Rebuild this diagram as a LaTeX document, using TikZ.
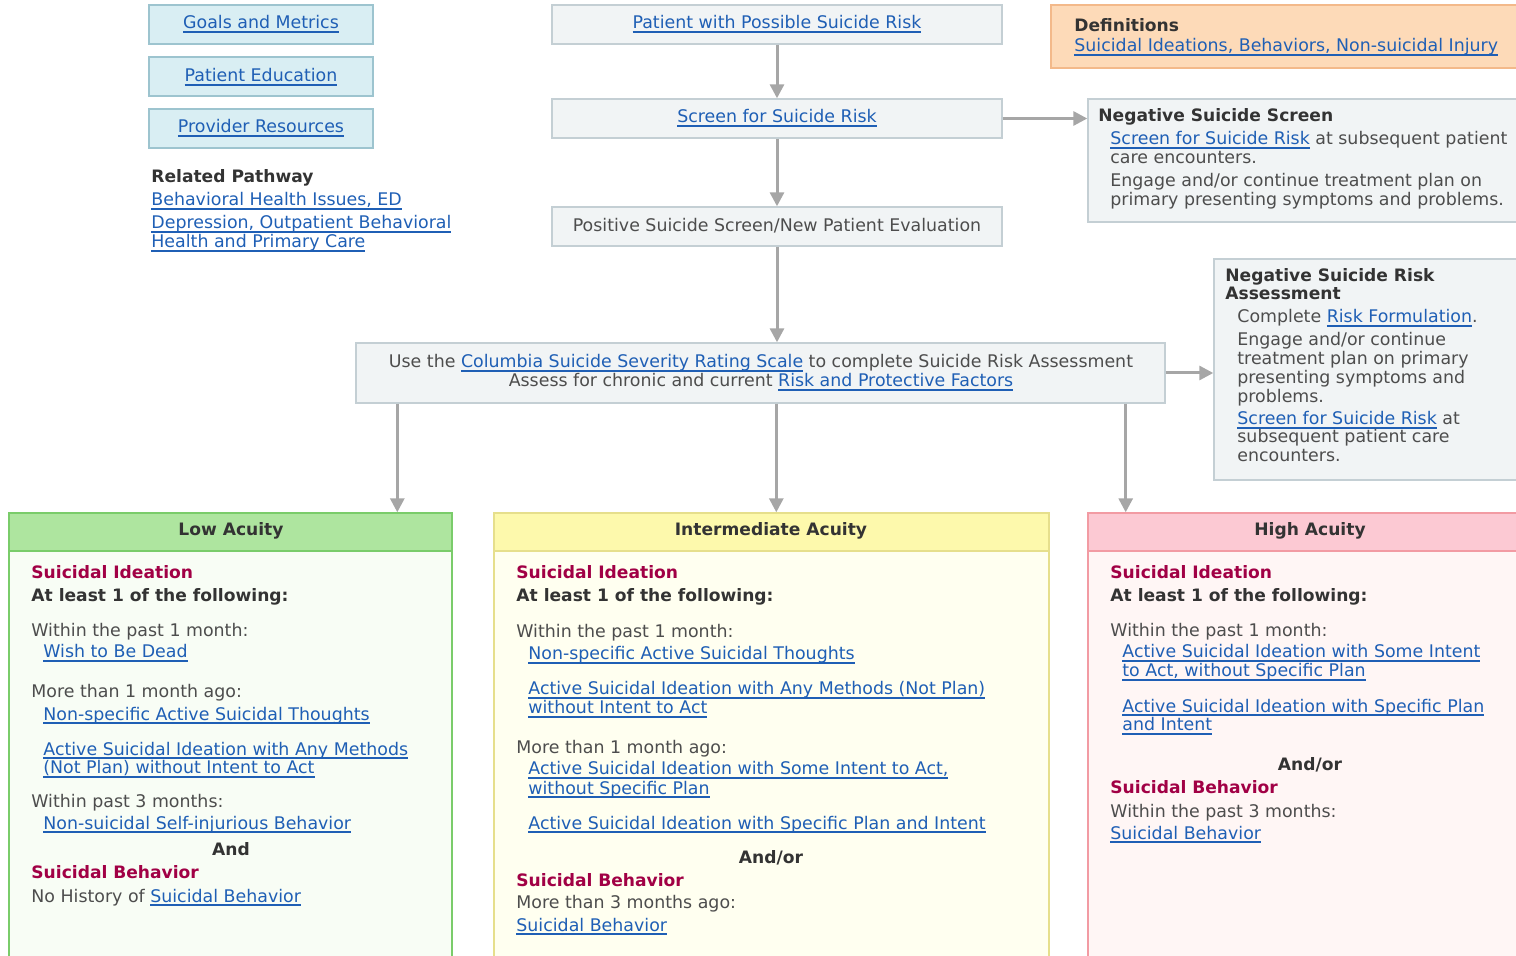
\documentclass[tikz,border=0pt]{standalone}
\usepackage{fontspec}
\setmainfont{DejaVu Sans}
\usetikzlibrary{arrows.meta,fit,calc}
\definecolor{lk}{HTML}{1F5FB5}
\definecolor{tg}{HTML}{4D4D4D}
\definecolor{tbk}{HTML}{333333}
\definecolor{mar}{HTML}{A10045}
\definecolor{gfill}{HTML}{F1F4F5}
\definecolor{gdraw}{HTML}{C4CFD4}
\definecolor{cfill}{HTML}{D9EEF3}
\definecolor{cdraw}{HTML}{9DC4CF}
\definecolor{pfill}{HTML}{FDDAB8}
\definecolor{pdraw}{HTML}{F3B98A}
\definecolor{lowhf}{HTML}{AEE59F}
\definecolor{lowd}{HTML}{7ACC6A}
\definecolor{lowbf}{HTML}{F8FDF5}
\definecolor{midhf}{HTML}{FDF9AC}
\definecolor{midd}{HTML}{E6DF8C}
\definecolor{midbf}{HTML}{FFFFF0}
\definecolor{highhf}{HTML}{FCC9D3}
\definecolor{highd}{HTML}{F29BA3}
\definecolor{highbf}{HTML}{FFF6F5}
\definecolor{arrc}{HTML}{A6A6A6}
\newcommand\fs{\fontsize{8.7}{9.5}\selectfont}
\newcommand\fsb{\fontsize{8.55}{9.5}\selectfont\bfseries}
\newcommand\lnk[1]{{\color{lk}\setbox0=\hbox{#1}\rlap{\vrule height -1.2pt depth 1.8pt width \wd0}\box0}}
\begin{document}
\begin{tikzpicture}[x=0.5pt,y=-0.5pt,
  bx/.style={line width=0.7pt, inner sep=0pt},
  gbox/.style={bx, draw=gdraw, fill=gfill},
  cbox/.style={bx, draw=cdraw, fill=cfill},
  pbox/.style={bx, draw=pdraw, fill=pfill},
  lowh/.style={bx, draw=lowd, fill=lowhf},
  lowb/.style={bx, draw=lowd, fill=lowbf},
  midh/.style={bx, draw=midd, fill=midhf},
  midb/.style={bx, draw=midd, fill=midbf},
  highh/.style={bx, draw=highd, fill=highhf},
  highb/.style={bx, draw=highd, fill=highbf},
  t/.style={anchor=base west, inner sep=0pt, font=\fs, text=tg},
  tb/.style={t, font=\fsb, text=tbk},
  tm/.style={t, font=\fsb, text=mar},
  tc/.style={t, anchor=base},
  tcb/.style={tb, anchor=base},
  arr/.style={draw=arrc, line width=1.5pt, -{Triangle[width=7pt,length=7pt]}}
]
\path[use as bounding box] (0,0) rectangle (1516,956);
\clip (0,0) rectangle (1516,956);

% top-left
\node[cbox, fit={(149,5)(373,44)}] (gm) {};
\node[cbox, fit={(149,57)(373,96)}] (pe) {};
\node[cbox, fit={(149,109)(373,148)}] (pr) {};
\node[tc] (gmt) at (261,29) {\lnk{Goals and Metrics}};
\node[tc] (pet) at (261,82) {\lnk{Patient Education}};
\node[tc] (prt) at (261,133) {\lnk{Provider Resources}};
\node[tb] (rp) at (151,183) {Related Pathway};
\node[t] (rp1) at (151,206) {\lnk{Behavioral Health Issues, ED}};
\node[t] (rp2) at (151,229) {\lnk{Depression, Outpatient Behavioral}};
\node[t] (rp3) at (151,248) {\lnk{Health and Primary Care}};

% centre column
\node[gbox, fit={(552,5)(1002,44)}] (p1) {};
\node[gbox, fit={(552,99)(1002,138)}] (p2) {};
\node[gbox, fit={(552,207)(1002,246)}] (p3) {};
\node[tc] (p1t) at (777,29) {\lnk{Patient with Possible Suicide Risk}};
\node[tc] (p2t) at (777,123) {\lnk{Screen for Suicide Risk}};
\node[tc] (p3t) at (777,232) {Positive Suicide Screen/New Patient Evaluation};
\node[gbox, fit={(356,343)(1165,403)}] (col) {};
\node[tc] (c1) at (761,368) {Use the \lnk{Columbia Suicide Severity Rating Scale} to complete Suicide Risk Assessment};
\node[tc] (c2) at (761,387) {Assess for chronic and current \lnk{Risk and Protective Factors}};

% definitions
\node[pbox, fit={(1051,5)(1522,68)}] (def) {};
\node[tb] (d1) at (1074,32) {Definitions};
\node[t] (d2) at (1074,52) {\lnk{Suicidal Ideations, Behaviors, Non-suicidal Injury}};

% negative suicide screen
\node[gbox, fit={(1088,99)(1522,222)}] (ns) {};
\node[tb] (ns0) at (1098,122) {Negative Suicide Screen};
\node[t] (ns1) at (1110,145) {\lnk{Screen for Suicide Risk} at subsequent patient};
\node[t] (ns2) at (1110,164) {care encounters.};
\node[t] (ns3) at (1110,187) {Engage and/or continue treatment plan on};
\node[t] (ns4) at (1110,206) {primary presenting symptoms and problems.};

% negative suicide risk assessment
\node[gbox, fit={(1214,259)(1522,480)}] (nsra) {};
\node[tb] (na0) at (1225,282) {Negative Suicide Risk};
\node[tb] (na1) at (1225,300) {Assessment};
\node[t] (na2) at (1237,323) {Complete \lnk{Risk Formulation}.};
\node[t] (na3) at (1237,346) {Engage and/or continue};
\node[t] (na4) at (1237,365) {treatment plan on primary};
\node[t] (na5) at (1237,384) {presenting symptoms and};
\node[t] (na6) at (1237,403) {problems.};
\node[t] (na7) at (1237,425) {\lnk{Screen for Suicide Risk} at};
\node[t] (na8) at (1237,443) {subsequent patient care};
\node[t] (na9) at (1237,462) {encounters.};

% low acuity
\node[lowb, fit={(9,551)(452,975)}] (lowbody) {};
\node[lowh, fit={(9,513)(452,551)}] (lowhd) {};
\node[tcb] (lo0) at (231,536) {Low Acuity};
\node[tm] (lo1) at (31,579) {Suicidal Ideation};
\node[tb] (lo2) at (31,602) {At least 1 of the following:};
\node[t] (lo3) at (31,637) {Within the past 1 month:};
\node[t] (lo4) at (43,658) {\lnk{Wish to Be Dead}};
\node[t] (lo5) at (31,698) {More than 1 month ago:};
\node[t] (lo6) at (43,720) {\lnk{Non-specific Active Suicidal Thoughts}};
\node[t] (lo7) at (43,755) {\lnk{Active Suicidal Ideation with Any Methods}};
\node[t] (lo8) at (43,774) {\lnk{(Not Plan) without Intent to Act}};
\node[t] (lo9) at (31,807) {Within past 3 months:};
\node[t] (lo10) at (43,829) {\lnk{Non-suicidal Self-injurious Behavior}};
\node[tcb] (lo11) at (231,855) {And};
\node[tm] (lo12) at (31,878) {Suicidal Behavior};
\node[t] (lo13) at (31,902) {No History of \lnk{Suicidal Behavior}};

% intermediate acuity
\node[midb, fit={(494,551)(1049,975)}] (midbody) {};
\node[midh, fit={(494,513)(1049,551)}] (midhd) {};
\node[tcb] (mi0) at (771,536) {Intermediate Acuity};
\node[tm] (mi1) at (516,579) {Suicidal Ideation};
\node[tb] (mi2) at (516,602) {At least 1 of the following:};
\node[t] (mi3) at (516,638) {Within the past 1 month:};
\node[t] (mi4) at (528,660) {\lnk{Non-specific Active Suicidal Thoughts}};
\node[t] (mi5) at (528,695) {\lnk{Active Suicidal Ideation with Any Methods (Not Plan)}};
\node[t] (mi6) at (528,714) {\lnk{without Intent to Act}};
\node[t] (mi7) at (516,754) {More than 1 month ago:};
\node[t] (mi8) at (528,775) {\lnk{Active Suicidal Ideation with Some Intent to Act,}};
\node[t] (mi9) at (528,794) {\lnk{without Specific Plan}};
\node[t] (mi10) at (528,829) {\lnk{Active Suicidal Ideation with Specific Plan and Intent}};
\node[tcb] (mi11) at (771,863) {And/or};
\node[tm] (mi12) at (516,886) {Suicidal Behavior};
\node[t] (mi13) at (516,908) {More than 3 months ago:};
\node[t] (mi14) at (516,931) {\lnk{Suicidal Behavior}};

% high acuity
\node[highb, fit={(1088,551)(1522,975)}] (highbody) {};
\node[highh, fit={(1088,513)(1522,551)}] (highhd) {};
\node[tcb] (hi0) at (1310,536) {High Acuity};
\node[tm] (hi1) at (1110,579) {Suicidal Ideation};
\node[tb] (hi2) at (1110,602) {At least 1 of the following:};
\node[t] (hi3) at (1110,637) {Within the past 1 month:};
\node[t] (hi4) at (1122,658) {\lnk{Active Suicidal Ideation with Some Intent}};
\node[t] (hi5) at (1122,677) {\lnk{to Act, without Specific Plan}};
\node[t] (hi6) at (1122,712) {\lnk{Active Suicidal Ideation with Specific Plan}};
\node[t] (hi7) at (1122,731) {\lnk{and Intent}};
\node[tcb] (hi8) at (1310,770) {And/or};
\node[tm] (hi9) at (1110,793) {Suicidal Behavior};
\node[t] (hi10) at (1110,817) {Within the past 3 months:};
\node[t] (hi11) at (1110,839) {\lnk{Suicidal Behavior}};

% connectors
\draw[arr] (p1) -- (p2);
\draw[arr] (p2) -- (p3);
\draw[arr] (p3.south) -- (p3.south |- col.north);
\draw[arr] (p2.east) -- (p2.east -| ns.west);
\draw[arr] (col.east) -- (col.east -| nsra.west);
\coordinate (cl) at ([xshift=21pt]col.south west);
\coordinate (cm) at ([xshift=210.5pt]col.south west);
\coordinate (ch) at ([xshift=-20pt]col.south east);
\draw[arr] (cl) -- (cl |- lowhd.north);
\draw[arr] (cm) -- (cm |- midhd.north);
\draw[arr] (ch) -- (ch |- highhd.north);
\end{tikzpicture}
\end{document}
